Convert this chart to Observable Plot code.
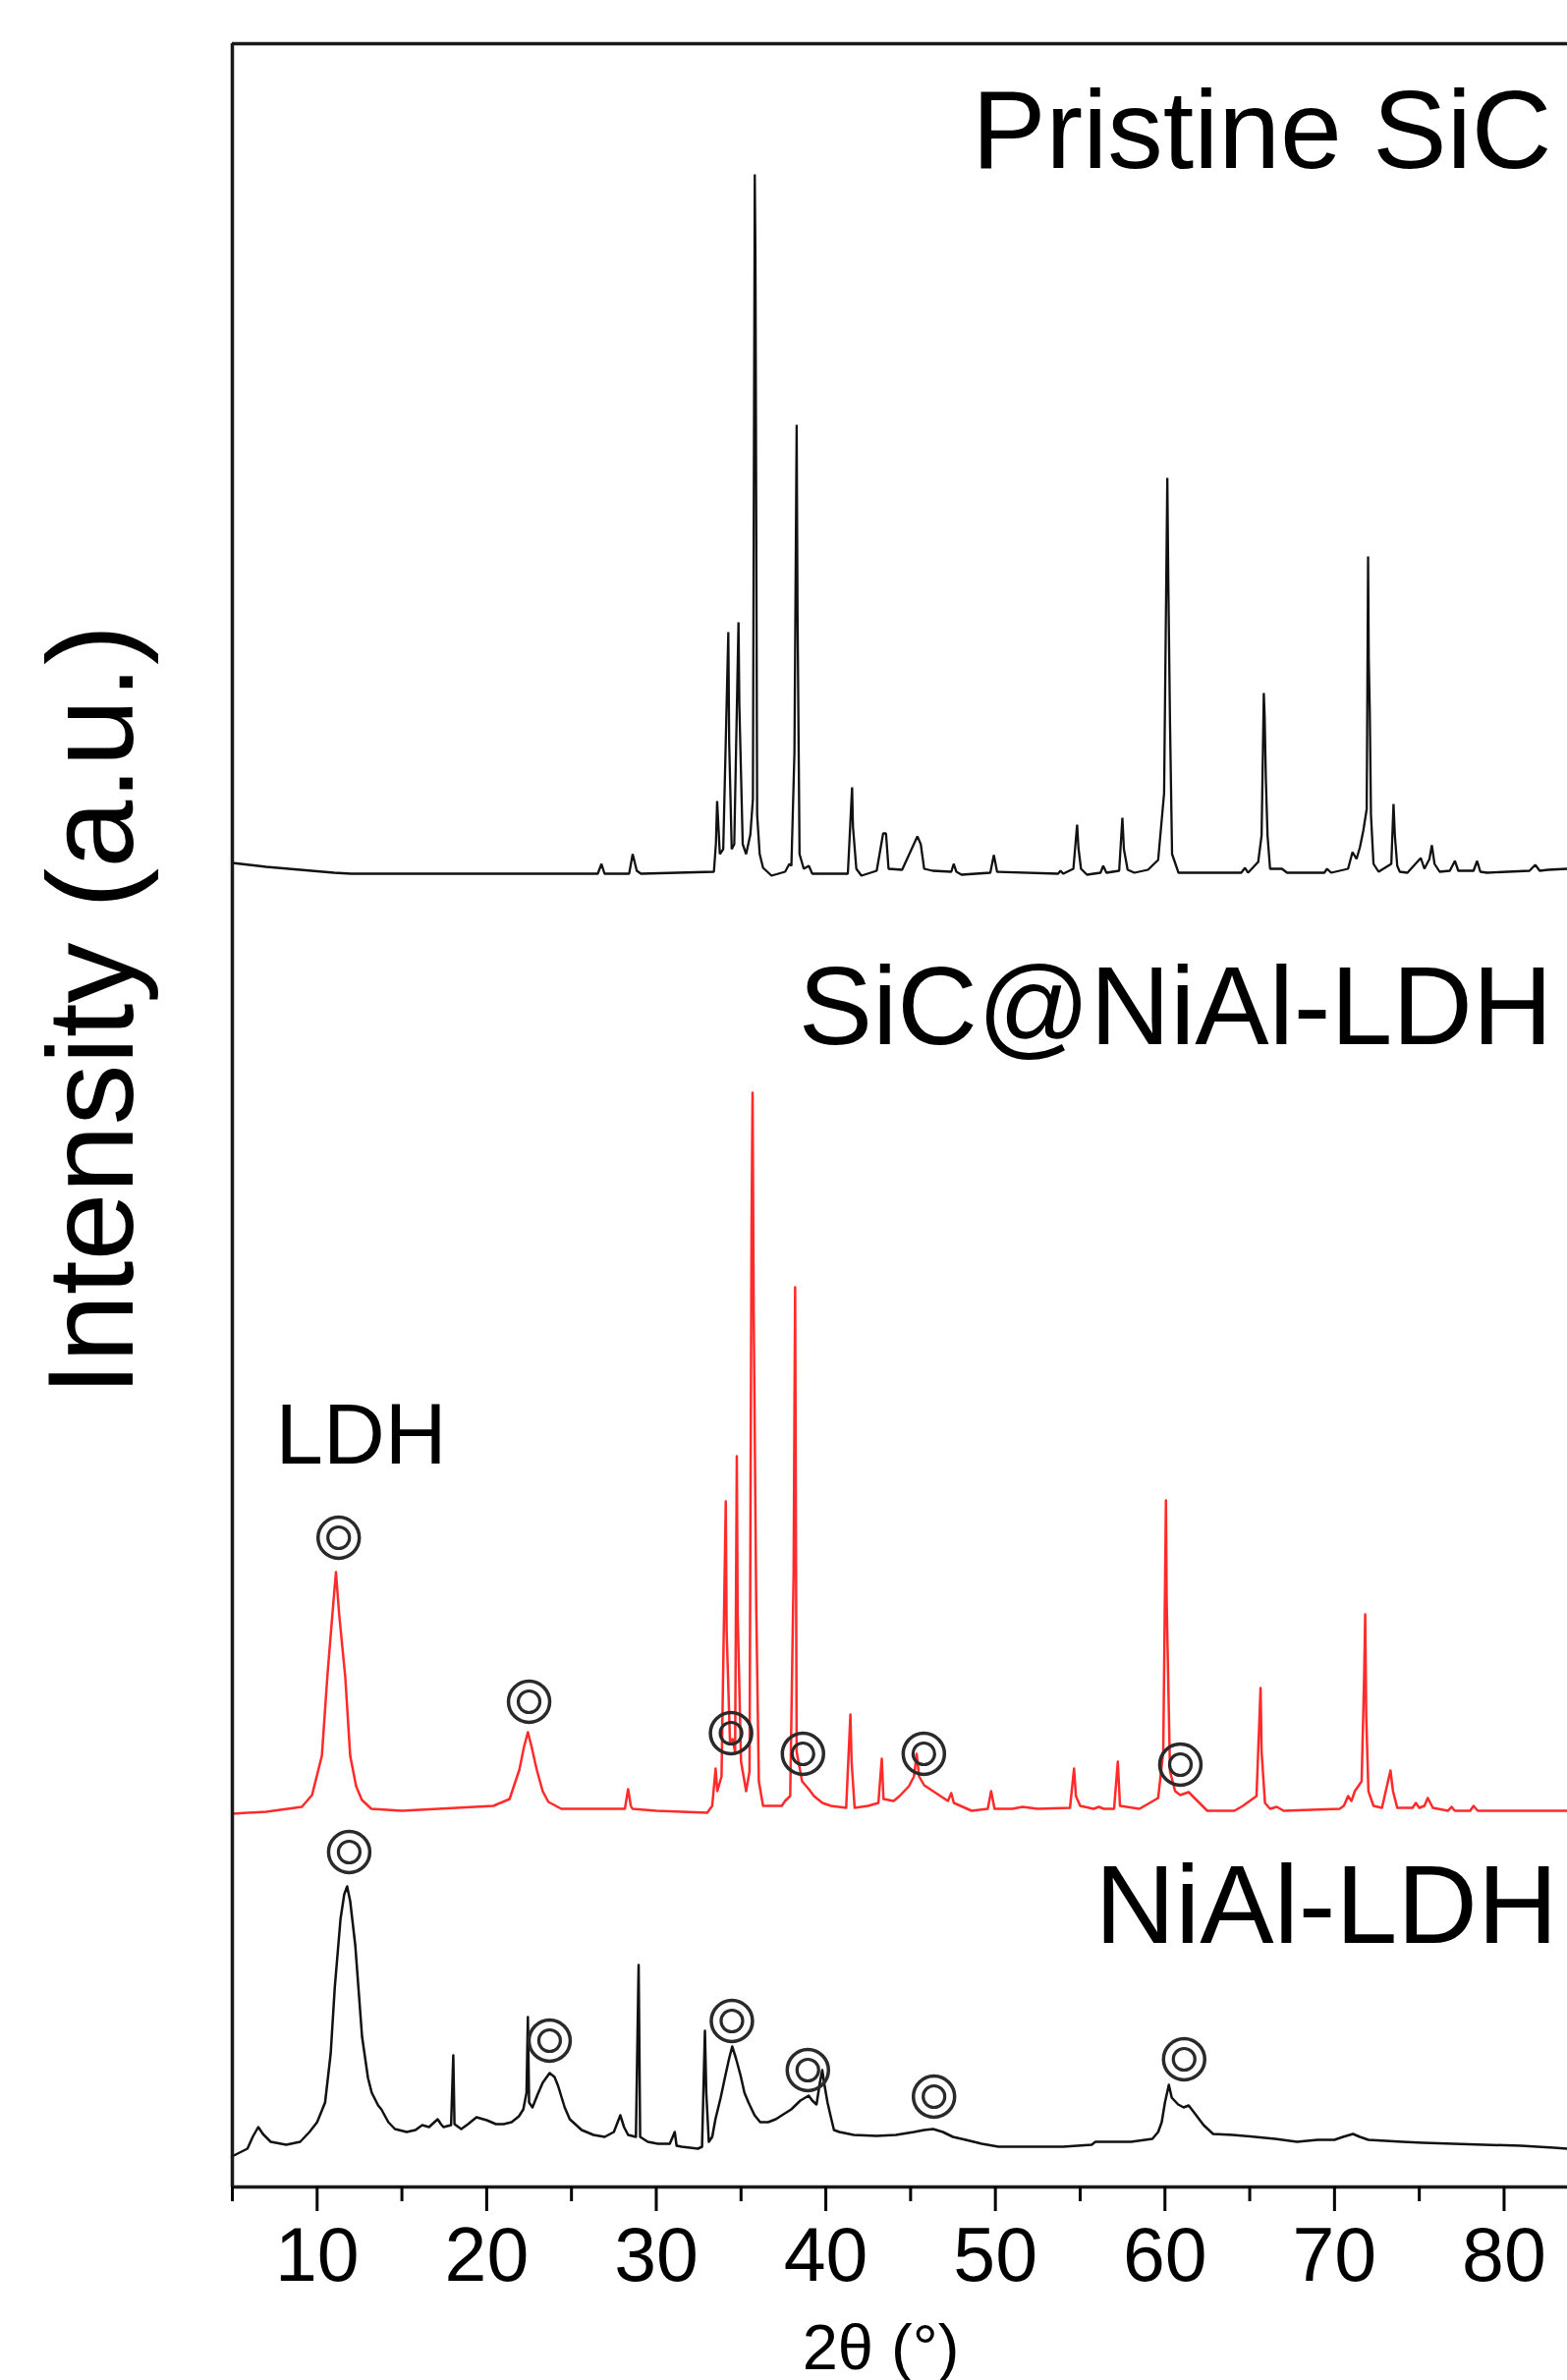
<!DOCTYPE html>
<html>
<head>
<meta charset="utf-8">
<script src="https://cdn.jsdelivr.net/npm/d3@7"></script>
<script src="https://cdn.jsdelivr.net/npm/@observablehq/plot@0.6"></script>
<style>
  html, body { margin: 0; padding: 0; background: #fff; }
  #chart svg { display: block; }
</style>
</head>
<body>
<div id="chart"></div>
<script>
// ---- Data (2θ in degrees, intensity in a.u. relative to each pattern's baseline) ----
const seriesNames = ["Pristine SiC", "SiC@NiAl-LDH", "NiAl-LDH"];
const seriesOffsets = [1337, 383, 36];   // vertical stacking offsets (a.u.)
const seriesColors = ["#111111", "#ff2a2a", "#111111"];

const pristineSiC = [
  [5.0,11],[7,7],[9,4],[11,1],[12,0],[26.55,0],[26.77,10],[26.95,0],[28.4,0],[28.61,20],[28.85,3],[29.1,0],
  [33.4,2],[33.52,31],[33.59,74],[33.75,20],[33.95,25],[34.25,246],[34.3,134],[34.45,25],[34.6,30],
  [34.85,256],[34.9,172],[35.1,30],[35.3,20],[35.55,40],[35.7,76],[35.81,712],[35.85,627],[35.95,60],
  [36.1,20],[36.3,6],[36.8,-2],[37.6,2],[37.85,10],[37.97,8],[38.15,124],[38.28,457],[38.33,270],[38.45,20],
  [38.7,5],[39.0,8],[39.2,0],[41.3,0],[41.55,88],[41.6,48],[41.8,5],[42.1,-2],[43.0,3],[43.38,41],[43.55,41],
  [43.7,5],[44.5,4],[45.4,38],[45.6,30],[45.8,5],[46.3,3],[47.4,2],[47.54,10],[47.7,2],[48.0,-1],
  [49.7,1],[49.91,19],[50.1,2],[53.7,0],[53.84,3],[54.0,0],[54.6,5],[54.82,50],[54.9,26],[55.05,5],
  [55.4,-1],[56.2,1],[56.36,8],[56.55,1],[57.3,3],[57.49,57],[57.58,25],[57.8,4],[58.2,1],[59.0,4],
  [59.6,14],[59.95,82],[60.14,403],[60.2,294],[60.3,152],[60.42,20],[60.8,1],[64.5,1],[64.72,6],[64.9,1],
  [65.5,12],[65.7,39],[65.83,184],[65.88,160],[65.95,97],[66.05,39],[66.2,5],[66.9,5],[67.2,1],
  [69.4,1],[69.56,5],[69.8,1],[70.8,5],[71.06,22],[71.3,15],[71.5,27],[71.7,44],[71.9,66],[71.98,323],
  [72.02,219],[72.08,166],[72.15,60],[72.3,10],[72.6,2],[73.35,10],[73.48,71],[73.56,39],[73.7,8],[73.85,2],
  [74.3,1],[75.09,16],[75.3,5],[75.6,15],[75.74,29],[75.9,10],[76.2,2],[76.8,3],[77.1,13],[77.3,3],
  [78.2,3],[78.41,13],[78.6,2],[79.0,1],[81.5,3],[81.84,9],[82.1,3],[82.6,4],[83.74,5]
];

const sicNiAlLDH = [
  [5.0,-3],[7,-1],[9.1,4],[9.7,16],[10.28,56],[10.6,136],[10.9,200],[11.11,243],[11.3,200],[11.66,136],
  [11.95,56],[12.3,25],[12.64,11],[13.2,2],[15,0],[20.4,5],[21.35,12],[21.93,42],[22.2,65],[22.43,80],
  [22.65,65],[22.95,42],[23.3,20],[23.64,9],[24.4,2],[28.15,2],[28.34,22],[28.5,5],[28.6,2],[30,0],
  [33,-2],[33.3,5],[33.5,43],[33.6,20],[33.85,35],[34.1,315],[34.15,183],[34.35,70],[34.5,73],[34.65,60],
  [34.75,361],[34.8,201],[35.0,50],[35.3,20],[35.5,40],[35.62,596],[35.68,731],[35.75,500],[35.9,204],
  [36.05,30],[36.3,5],[37.4,5],[37.6,10],[37.9,15],[38.1,241],[38.19,533],[38.28,60],[38.6,30],[39.0,22],
  [39.3,15],[39.8,8],[40.3,5],[41.2,3],[41.45,98],[41.52,50],[41.7,3],[42.5,5],[43.1,8],[43.3,53],
  [43.4,12],[44.0,10],[44.35,15],[44.9,25],[45.2,35],[45.36,58],[45.5,35],[45.8,26],[46.5,18],[47.2,10],
  [47.4,18],[47.55,8],[48.6,0],[49.55,2],[49.75,20],[49.95,2],[51.0,2],[51.6,4],[52.5,2],[54.4,3],
  [54.64,43],[54.75,15],[55.0,5],[55.8,2],[56.1,4],[56.4,2],[57.0,2],[57.22,50],[57.35,5],[58.5,2],
  [59.6,13],[59.9,60],[60.06,316],[60.1,216],[60.15,170],[60.2,127],[60.3,40],[60.6,20],[60.9,16],
  [61.4,19],[61.8,12],[62.5,0],[64.1,0],[64.6,5],[65.4,15],[65.64,125],[65.7,60],[65.9,8],[66.2,2],
  [66.6,4],[67,0],[70.3,2],[70.55,5],[70.8,15],[71.0,10],[71.2,20],[71.6,30],[71.75,138],[71.81,200],
  [71.87,96],[72.0,20],[72.3,5],[72.8,3],[73.3,41],[73.45,20],[73.7,3],[74.6,3],[74.8,8],[75.0,3],
  [75.3,5],[75.5,13],[75.8,3],[76.7,0],[76.9,4],[77.1,0],[78.0,0],[78.2,5],[78.45,0],[83.74,0]
];

const niAlLDH = [
  [4.97,-5],[5.89,3],[6.2,15],[6.53,25],[6.8,18],[7.26,10],[8.18,7],[9.0,10],[9.55,20],[10.0,30],
  [10.47,50],[10.8,100],[11.04,167],[11.38,237],[11.6,262],[11.77,270],[11.95,255],[12.25,210],
  [12.65,117],[13.0,75],[13.22,60],[13.6,47],[13.79,43],[14.2,30],[14.59,23],[15.28,20],[15.8,22],
  [16.2,27],[16.6,25],[17.11,33],[17.3,28],[17.45,25],[17.9,27],[18.03,98],[18.1,28],[18.5,23],
  [18.9,28],[19.4,35],[20.0,32],[20.55,28],[21.0,28],[21.47,30],[21.9,36],[22.16,43],[22.35,60],
  [22.43,137],[22.5,50],[22.7,45],[23.0,58],[23.3,70],[23.71,80],[24.0,76],[24.21,67],[24.6,45],
  [24.9,33],[25.6,22],[26.3,17],[26.96,15],[27.5,20],[27.88,37],[28.1,25],[28.34,17],[28.8,15],
  [28.96,190],[29.05,15],[29.5,10],[30.1,8],[30.8,8],[31.09,20],[31.2,6],[31.5,5],[32.46,3],[32.7,5],
  [32.87,123],[32.95,60],[33.1,10],[33.3,15],[33.49,33],[33.8,55],[34.07,77],[34.3,95],[34.48,107],
  [34.7,95],[34.98,77],[35.2,60],[35.44,50],[35.8,37],[36.13,30],[36.6,30],[37.05,33],[37.5,38],
  [37.96,43],[38.5,52],[38.99,57],[39.2,52],[39.45,48],[39.65,70],[39.79,83],[39.9,70],[40.1,50],
  [40.3,35],[40.48,22],[40.8,20],[41.65,17],[43.0,16],[44.13,17],[45.2,20],[45.8,22],[46.33,23],
  [46.9,20],[47.5,15],[48.25,12],[49.2,8],[50.18,5],[52,5],[54,5],[55.68,7],[55.9,10],[58,10],
  [59.26,13],[59.6,20],[59.81,30],[60.0,50],[60.23,68],[60.4,55],[60.78,48],[61.1,45],[61.4,47],
  [61.8,38],[62.28,27],[62.84,18],[64,17],[65.3,15],[66.5,13],[67.79,10],[69,12],[69.99,12],[70.5,15],
  [71.09,18],[71.5,15],[72,12],[74,10],[75.22,9],[77,8],[78.8,7],[81,6],[82.93,4],[83.74,3]
];

// LDH reflection markers (◎), [2θ, height above the pattern's baseline]
const ldhMarksComposite = [[11.27,278],[22.5,111],[34.41,79],[38.65,58],[45.78,58],[60.91,47]];
const ldhMarksNiAl = [[11.89,305],[23.71,113],[34.46,133],[38.94,83],[46.38,56],[61.13,94]];

// Axis ticks
const majorTicks = [10, 20, 30, 40, 50, 60, 70, 80];
const minorTicks = [5, 15, 25, 35, 45, 55, 65, 75];
const xDomain = [5, 83.74];
const yTop = 2182;

// ---- Build tables ----
const patterns = [pristineSiC, sicNiAlLDH, niAlLDH];
const rows = patterns.map((pts, i) =>
  pts.map(([t, v]) => ({theta: t, intensity: v + seriesOffsets[i], series: seriesNames[i]}))
);
const marks = [
  ...ldhMarksComposite.map(([t, v]) => ({theta: t, intensity: v + seriesOffsets[1]})),
  ...ldhMarksNiAl.map(([t, v]) => ({theta: t, intensity: v + seriesOffsets[2]}))
];

// Annotation labels (2θ, a.u. position of cap-top)
const seriesLabels = [
  {text: "Pristine SiC", theta: 82.81, intensity: 2136},
  {text: "SiC@NiAl-LDH", theta: 82.87, intensity: 1244},
  {text: "NiAl-LDH", theta: 83.16, intensity: 329}
];
const phaseLabels = [{text: "LDH", theta: 7.55, intensity: 798}];

const font = "'Liberation Sans', Arial, Helvetica, sans-serif";

const chart = Plot.plot({
  width: 1595,
  height: 2423,
  marginLeft: 236,
  marginRight: 0,
  marginTop: 44,
  marginBottom: 197,
  style: {fontFamily: font, fontSize: "77px", background: "#fff", color: "#000", overflow: "visible"},
  x: {domain: xDomain},
  y: {domain: [0, yTop], axis: null},
  marks: [
    Plot.line(rows[0], {x: "theta", y: "intensity", stroke: seriesColors[0], strokeWidth: 2.3, strokeLinejoin: "miter"}),
    Plot.line(rows[1], {x: "theta", y: "intensity", stroke: seriesColors[1], strokeWidth: 2.5}),
    Plot.line(rows[2], {x: "theta", y: "intensity", stroke: seriesColors[2], strokeWidth: 2.5}),
    Plot.dot(marks, {x: "theta", y: "intensity", r: 21, stroke: "#2a2a2a", strokeWidth: 3.5, fill: "none"}),
    Plot.dot(marks, {x: "theta", y: "intensity", r: 11, stroke: "#2a2a2a", strokeWidth: 3.2, fill: "none"}),
    Plot.text(seriesLabels, {x: "theta", y: "intensity", text: "text", fontSize: 113, textAnchor: "end", lineAnchor: "top", fill: "#000"}),
    Plot.text(phaseLabels, {x: "theta", y: "intensity", text: "text", fontSize: 87, textAnchor: "start", lineAnchor: "top", fill: "#000"}),
    // frame: left, top, bottom
    Plot.ruleX([xDomain[0]], {y1: 0, y2: yTop, stroke: "#1a1a1a", strokeWidth: 3.5}),
    Plot.ruleY([yTop], {x1: xDomain[0], x2: xDomain[1], stroke: "#1a1a1a", strokeWidth: 3.5}),
    Plot.ruleY([0], {x1: xDomain[0], x2: xDomain[1], stroke: "#1a1a1a", strokeWidth: 3.5}),
    Plot.axisX({ticks: minorTicks, tickSize: 15, tickFormat: () => "", strokeWidth: 3, label: null}),
    Plot.axisX({ticks: majorTicks, tickSize: 25, tickPadding: 16, strokeWidth: 3, label: null, fontSize: 77}),
    // axis titles
    Plot.text(["2θ (°)"], {frameAnchor: "bottom", dx: 896 - (236 + 1595) / 2, dy: 139, lineAnchor: "top", textAnchor: "middle", fontSize: 65}),
    Plot.text(["Intensity (a.u.)"], {frameAnchor: "left", dx: 95 - 236, dy: 1028 - (44 + 2226) / 2, rotate: -90, textAnchor: "middle", lineAnchor: "middle", fontSize: 124})
  ]
});

document.getElementById("chart").appendChild(chart);
</script>
</body>
</html>
